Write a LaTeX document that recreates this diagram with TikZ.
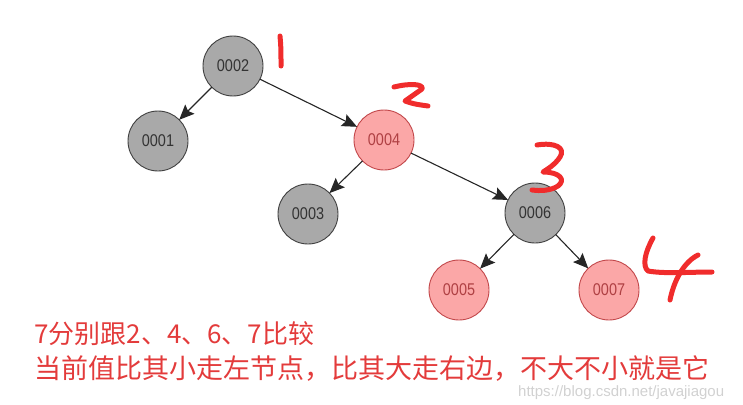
\documentclass[tikz,border=0pt]{standalone}
\usepackage{fontspec}
\usepackage{xcolor}
\usepackage{tikz}
\usetikzlibrary{arrows.meta}
\setmainfont{Liberation Sans}
\newfontfamily\cjkfont{Noto Sans CJK SC}
\newfontfamily\keyfont[FakeStretch=0.85]{Liberation Sans}
\definecolor{nodegray}{HTML}{A9A9A9}
\definecolor{nodepink}{HTML}{FBA7A7}
\definecolor{pinkline}{HTML}{C2474A}
\definecolor{pentred}{HTML}{F02C2C}
\definecolor{notered}{HTML}{E33B3B}

\begin{document}
\begin{tikzpicture}[x=1pt, y=-1pt,
  gnode/.style={circle, draw=black!75, fill=nodegray, minimum size=60pt,
                inner sep=0pt, outer sep=0pt, line width=0.9pt,
                font=\keyfont\fontsize{17}{17}\selectfont, text=black!80},
  rnode/.style={gnode, draw=pinkline, fill=nodepink, text=pinkline!90!black},
  arr/.style={-{Stealth[length=15pt, width=13pt, inset=2.5pt]},
              line width=1.1pt, black!85},
  pen/.style={pentred, line width=5pt, line cap=round, line join=round}]
\useasboundingbox (0,0) rectangle (743,404);
% --- tree ---
\node[gnode] (n2) at (233,66)  {0002};
\node[gnode] (n1) at (158,141) {0001};
\node[rnode] (n4) at (384,140) {0004};
\node[gnode] (n3) at (308,214) {0003};
\node[gnode] (n6) at (535,213) {0006};
\node[rnode] (n5) at (459,290) {0005};
\node[rnode] (n7) at (609,290) {0007};
\draw[arr] (n2) -- (n1);
\draw[arr] (n2) -- (n4);
\draw[arr] (n4) -- (n3);
\draw[arr] (n4) -- (n6);
\draw[arr] (n6) -- (n5);
\draw[arr] (n6) -- (n7);
% --- handwritten step numbers ---
\draw[pen] (280,36) .. controls (281,48) .. (281,66);
\draw[pen] (394,87) .. controls (410,83) and (424,84) .. (422,89)
  -- (405,101) .. controls (414,104) .. (428,106);
\draw[pen] (537,145) .. controls (555,142) and (566,148) .. (560,157)
  .. controls (555,165) and (546,170) .. (543,172)
  .. controls (560,172) and (566,180) .. (558,186)
  .. controls (550,191) and (540,191) .. (532,190);
\draw[pen] (653,238) .. controls (645,252) and (642,266) .. (648,271)
  .. controls (665,274) and (690,272) .. (712,272);
\draw[pen] (698,255) .. controls (684,262) and (674,280) .. (670,300);
% --- note ---
\node[anchor=base west, inner sep=0pt, text=notered,
      font=\cjkfont\fontsize{26}{26}\selectfont] (l1) at (34,343)
  {7分别跟2、4、6、7比较};
\node[anchor=base west, inner sep=0pt, text=notered,
      font=\cjkfont\fontsize{27}{27}\selectfont] (l2) at (34,378)
  {当前值比其小走左节点，比其大走右边，不大不小就是它};
\node[anchor=base west, inner sep=0pt, text=black!18,
      font=\fontsize{15}{15}\selectfont] (wm) at (518,396)
  {https://blog.csdn.net/javajiagou};
\end{tikzpicture}
\end{document}
